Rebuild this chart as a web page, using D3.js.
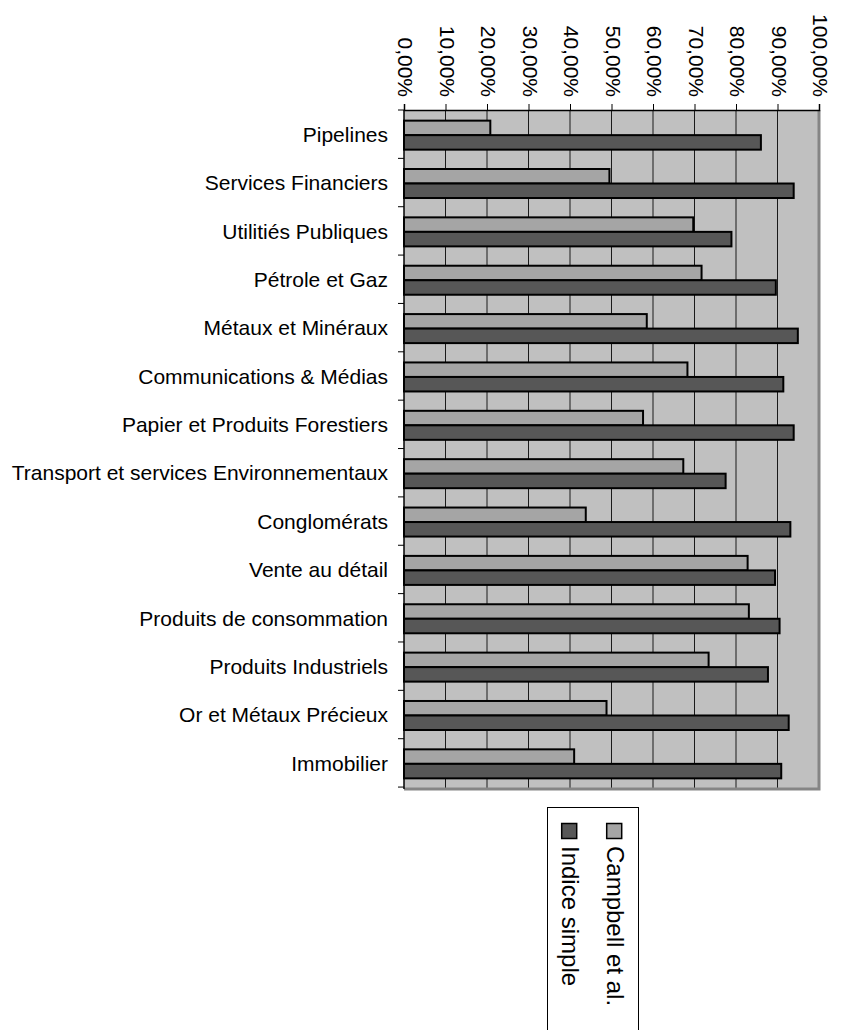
<!DOCTYPE html>
<html>
<head>
<meta charset="utf-8">
<script src="https://cdn.jsdelivr.net/npm/d3@7"></script>
<style>
  body { margin: 0; background: #fff; }
  svg { display: block; font-family: "Liberation Sans", Arial, sans-serif; }
</style>
</head>
<body>
<svg id="chart" width="842" height="1030"></svg>
<script>
const categories = [
    'Pipelines', 'Services Financiers', 'Utilitiés Publiques', 'Pétrole et Gaz',
    'Métaux et Minéraux', 'Communications & Médias', 'Papier et Produits Forestiers',
    'Transport et services Environnementaux', 'Conglomérats', 'Vente au détail',
    'Produits de consommation', 'Produits Industriels', 'Or et Métaux Précieux', 'Immobilier'
];
const seriesNames = ['Campbell et al.', 'Indice simple'];
const campbell = [0.208, 0.495, 0.697, 0.717, 0.585, 0.683, 0.576, 0.673, 0.438, 0.828, 0.831, 0.734, 0.488, 0.410];
const indiceSimple = [0.860, 0.939, 0.789, 0.896, 0.949, 0.914, 0.939, 0.775, 0.931, 0.894, 0.905, 0.877, 0.927, 0.909];
const tickValues = [0, 0.1, 0.2, 0.3, 0.4, 0.5, 0.6, 0.7, 0.8, 0.9, 1.0];
const colors = ['#a5a5a5', '#575757'];

const svg = d3.select('#chart');
const plotLeft = 404, plotRight = 819, plotTop = 110, plotBottom = 789;

const x = d3.scaleLinear().domain([0, 1]).range([plotLeft, plotRight]);
const y = d3.scaleBand().domain(categories).range([plotTop, plotBottom])
    .paddingInner(0.4).paddingOuter(0.22);
const ySeries = d3.scaleBand().domain(seriesNames).range([0, y.bandwidth()]);
const color = d3.scaleOrdinal().domain(seriesNames).range(colors);

// plot background
svg.append('rect')
    .attr('x', plotLeft).attr('y', plotTop)
    .attr('width', plotRight - plotLeft).attr('height', plotBottom - plotTop)
    .attr('fill', '#c0c0c0');

// vertical gridlines
svg.append('g').selectAll('line')
    .data(tickValues.slice(1, -1))
    .join('line')
    .attr('x1', d => x(d)).attr('x2', d => x(d))
    .attr('y1', plotTop).attr('y2', plotBottom)
    .attr('stroke', '#1a1a1a').attr('stroke-width', 1);

// gray border right + bottom
svg.append('path')
    .attr('d', `M${plotRight},${plotTop}V${plotBottom}H${plotLeft}`)
    .attr('fill', 'none').attr('stroke', '#858585').attr('stroke-width', 3);

// bars
const rows = categories.map((c, i) => ({ cat: c, values: [campbell[i], indiceSimple[i]] }));
const groups = svg.append('g').selectAll('g')
    .data(rows)
    .join('g')
    .attr('transform', d => `translate(0,${y(d.cat)})`);
groups.selectAll('rect')
    .data(d => d.values.map((v, j) => ({ series: seriesNames[j], value: v })))
    .join('rect')
    .attr('x', x(0))
    .attr('y', d => ySeries(d.series))
    .attr('width', d => x(d.value) - x(0))
    .attr('height', ySeries.bandwidth())
    .attr('fill', d => color(d.series))
    .attr('stroke', '#000').attr('stroke-width', 2);

// top axis with rotated labels
const fmt = d => d3.format('.2f')(d * 100).replace('.', ',') + '%';
const topAxis = svg.append('g')
    .attr('transform', `translate(0,${plotTop})`)
    .call(d3.axisTop(x).tickValues(tickValues).tickSize(6).tickFormat(fmt));
topAxis.select('.domain').attr('stroke', '#000').attr('stroke-width', 1.5);
topAxis.selectAll('.tick line').attr('stroke', '#000');
topAxis.selectAll('.tick text')
    .attr('x', 0).attr('y', 0)
    .attr('dy', '0.35em')
    .attr('transform', 'translate(1,-13) rotate(90)')
    .attr('text-anchor', 'end')
    .attr('fill', '#000')
    .style('font-size', '21px')
    .style('font-family', '"Liberation Sans", Arial, sans-serif');

// left axis: labels
const leftAxis = svg.append('g')
    .attr('transform', `translate(${plotLeft},0)`)
    .call(d3.axisLeft(y).tickSize(0).tickPadding(16));
leftAxis.select('.domain').remove();
leftAxis.selectAll('.tick text')
    .attr('fill', '#000')
    .style('font-size', '21px')
    .style('font-family', '"Liberation Sans", Arial, sans-serif');

// left axis line and category boundary ticks
svg.append('line')
    .attr('x1', plotLeft).attr('x2', plotLeft).attr('y1', plotTop).attr('y2', plotBottom)
    .attr('stroke', '#000').attr('stroke-width', 1.5);
svg.append('g').selectAll('line')
    .data(d3.range(categories.length + 1))
    .join('line')
    .attr('x1', plotLeft - 6).attr('x2', plotLeft)
    .attr('y1', i => plotTop + i * y.step())
    .attr('y2', i => plotTop + i * y.step())
    .attr('stroke', '#000').attr('stroke-width', 1);

// legend (rotated)
const legend = svg.append('g');
legend.append('rect')
    .attr('x', 547.5).attr('y', 807.5)
    .attr('width', 91).attr('height', 240)
    .attr('fill', '#fff').attr('stroke', '#000').attr('stroke-width', 1);
const legendItems = legend.selectAll('g.item')
    .data(seriesNames)
    .join('g')
    .attr('class', 'item')
    .attr('transform', (d, i) => `translate(${606.7 - i * 45},0)`);
legendItems.append('rect')
    .attr('x', 0).attr('y', 823.5)
    .attr('width', 15).attr('height', 15)
    .attr('fill', d => color(d))
    .attr('stroke', '#000').attr('stroke-width', 1.5);
legendItems.append('text')
    .attr('transform', 'translate(0,846) rotate(90)')
    .attr('x', 0).attr('y', 0)
    .style('font-size', '24px')
    .attr('fill', '#000')
    .text(d => d);
</script>
</body>
</html>
